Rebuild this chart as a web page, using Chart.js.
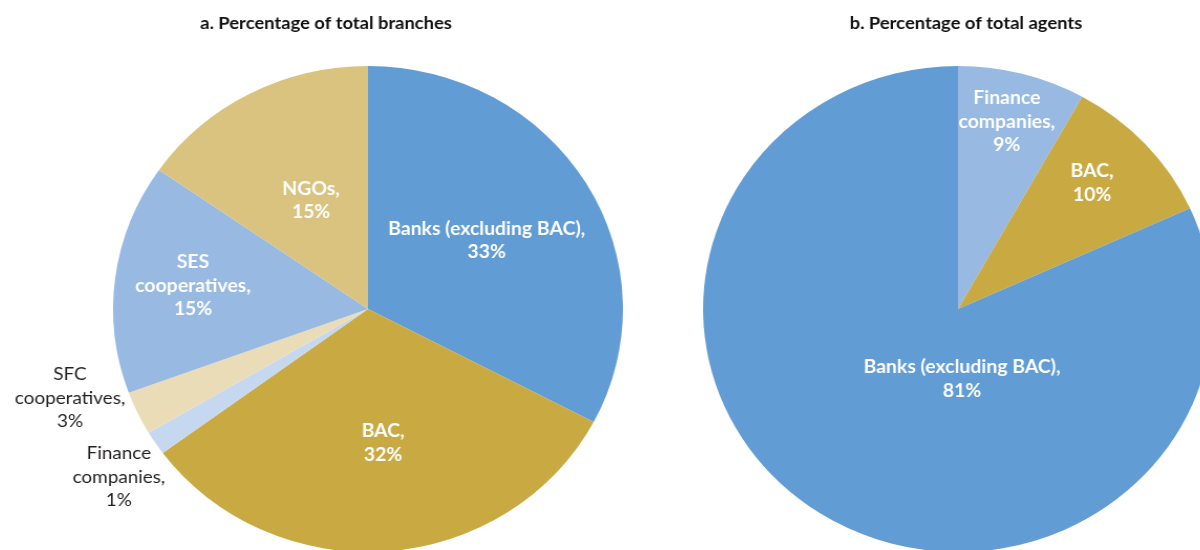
<!DOCTYPE html>
<html>
<head>
<meta charset="utf-8">
<script src="https://cdn.jsdelivr.net/npm/chart.js@4.4.1/dist/chart.umd.min.js"></script>
<style>
  html, body { margin: 0; padding: 0; background: #fff; }
  body { width: 1200px; height: 550px; overflow: hidden; position: relative; }
  .pie { position: absolute; top: 0; width: 620px; height: 560px; transform-origin: 360px 309px; transform: scaleX(1.049); }
  .pie canvas { display: block; }
</style>
</head>
<body>
<div class="pie" style="left:8px"><canvas id="pieA" width="620" height="560"></canvas></div>
<div class="pie" style="left:598px"><canvas id="pieB" width="620" height="560"></canvas></div>
<script>
// a. branches
const branchCategories = ['Banks (excluding BAC)', 'BAC', 'Finance companies', 'SFC cooperatives', 'SES cooperatives', 'NGOs'];
const branchValues = [32.7, 32.2, 1.6, 2.9, 15.3, 15.3];
const branchPctLabels = ['33%', '32%', '1%', '3%', '15%', '15%'];

// b. agents
const agentCategories = ['Finance companies', 'BAC', 'Banks (excluding BAC)'];
const agentValues = [8.1, 10.1, 81.8];
const agentPctLabels = ['9%', '10%', '81%'];

const BLUE = '#619cd4', GOLD = '#c9aa42', LIGHTBLUE = '#97b9e2', PALEBLUE = '#c6d8f0', SAND = '#d9c37f', BEIGE = '#eadcb6';

// draws the slice labels and the panel title
const sliceLabels = {
  id: 'sliceLabels',
  afterDatasetsDraw(chart, args, opts) {
    const ctx = chart.ctx;
    const meta = chart.getDatasetMeta(0);
    ctx.save();
    ctx.textAlign = 'center';
    ctx.textBaseline = 'middle';
    meta.data.forEach((arc, i) => {
      const p = opts.place[i];
      const mid = (arc.startAngle + arc.endAngle) / 2 + p.shift * Math.PI / 180;
      const r = arc.outerRadius * p.r;
      const x = arc.x + Math.cos(mid) * r;
      const y = arc.y + Math.sin(mid) * r;
      const words = chart.data.labels[i].split(' ');
      const lines = words.length === 2 ? words.slice() : [words.join(' ')];
      lines[lines.length - 1] += ',';
      lines.push(opts.pct[i]);
      ctx.font = p.out ? '18px Lato' : 'bold 18.5px Lato';
      ctx.fillStyle = p.out ? '#231f20' : '#ffffff';
      const lh = 23.5;
      lines.forEach((t, k) => ctx.fillText(t, x, y + (k - (lines.length - 1) / 2) * lh));
    });
    ctx.font = 'bold 17.5px Lato';
    ctx.fillStyle = '#111111';
    const ca = chart.chartArea;
    ctx.fillText(opts.title, (ca.left + ca.right) / 2 + opts.titleDx, 23);
    ctx.restore();
  }
};

function makePie(id, cats, vals, colors, pct, title, titleDx, place) {
  return new Chart(document.getElementById(id), {
    type: 'pie',
    data: {
      labels: cats,
      datasets: [{
        data: vals,
        backgroundColor: colors,
        borderWidth: 0
      }]
    },
    options: {
      responsive: false,
      animation: false,
      layout: { padding: { top: 66, bottom: 8, left: 117, right: 17 } },
      plugins: {
        legend: { display: false },
        tooltip: { enabled: false },
        sliceLabels: { pct: pct, title: title, titleDx: titleDx, place: place }
      }
    },
    plugins: [sliceLabels]
  });
}

makePie('pieA', branchCategories, branchValues,
  [BLUE, GOLD, PALEBLUE, BEIGE, LIGHTBLUE, SAND],
  branchPctLabels, 'a. Percentage of total branches', -40,
  [
    { r: 0.544, shift: 0 },
    { r: 0.555, shift: -1.8 },
    { r: 1.197, shift: -1.8, out: true },
    { r: 1.225, shift: 8, out: true },
    { r: 0.693, shift: 0.5 },
    { r: 0.50, shift: 1 }
  ]);

makePie('pieB', agentCategories, agentValues,
  [LIGHTBLUE, GOLD, BLUE],
  agentPctLabels, 'b. Percentage of total agents', 7.6,
  [
    { r: 0.793, shift: -0.6 },
    { r: 0.738, shift: -1.9 },
    { r: 0.288, shift: -35.9 }
  ]);
</script>
</body>
</html>
